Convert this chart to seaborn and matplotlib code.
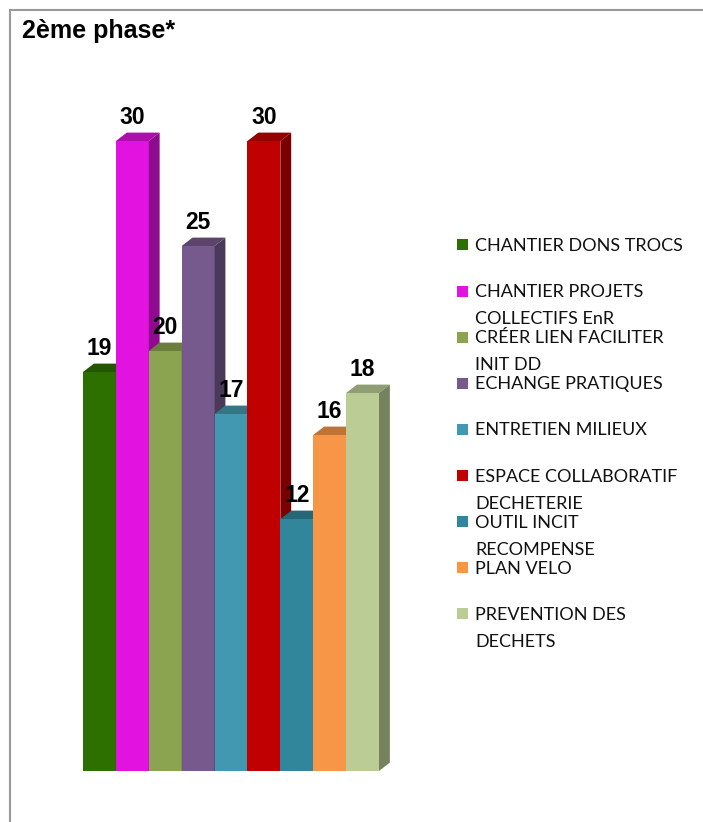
import matplotlib
matplotlib.use("Agg")
import matplotlib.pyplot as plt
from matplotlib.patches import Polygon, Rectangle
from matplotlib.lines import Line2D
import matplotlib.colors as mcolors
import seaborn as sns

# données
categories = ["CHANTIER DONS TROCS", "CHANTIER PROJETS COLLECTIFS EnR",
              "CRÉER LIEN FACILITER INIT DD", "ECHANGE PRATIQUES",
              "ENTRETIEN MILIEUX", "ESPACE COLLABORATIF DECHETERIE",
              "OUTIL INCIT RECOMPENSE", "PLAN VELO", "PREVENTION DES DECHETS"]
legend_labels = ["CHANTIER DONS TROCS", "CHANTIER PROJETS\nCOLLECTIFS EnR",
                 "CRÉER LIEN FACILITER\nINIT DD", "ECHANGE PRATIQUES",
                 "ENTRETIEN MILIEUX", "ESPACE COLLABORATIF\nDECHETERIE",
                 "OUTIL INCIT\nRECOMPENSE", "PLAN VELO", "PREVENTION DES\nDECHETS"]
values = [19, 30, 20, 25, 17, 30, 12, 16, 18]
colors = ["#2E7000", "#E212E0", "#8BA450", "#765A8E", "#4398B1",
          "#C00000", "#31869B", "#F79646", "#BBCD95"]

W, H = 703, 822
DEPTH_X = 0.33   # profondeur 3D (unités x)
DEPTH_Y = 0.40   # profondeur 3D (unités y)
BOLD_FONT = ['Liberation Sans', 'DejaVu Sans']


def shade(c, f):
    r, g, b = mcolors.to_rgb(c)
    return (r * f, g * f, b * f)


def main():
    sns.set_theme(style="white")
    plt.rcParams['font.family'] = ['Lato', 'DejaVu Sans']

    fig = plt.figure(figsize=(W / 100, H / 100), dpi=100)
    ax = fig.add_axes([83 / W, 1 - 771 / H, 296 / W, 630 / H])

    sns.barplot(x=categories, y=values, hue=categories, palette=colors,
                saturation=1, width=1.0, legend=False, ax=ax,
                edgecolor="none", linewidth=0)
    ax.set_xlim(-0.5, 8.5)
    ax.set_ylim(0, 30)
    ax.axis("off")

    # faces du dessus et côtés pour l'effet 3D
    for i, (patch, v, c) in enumerate(zip(ax.patches, values, colors)):
        patch.set_zorder(2 + i)
        x0 = patch.get_x()
        x1 = x0 + patch.get_width()
        top = Polygon([(x0, v), (x1, v), (x1 + DEPTH_X, v + DEPTH_Y),
                       (x0 + DEPTH_X, v + DEPTH_Y)],
                      closed=True, facecolor=shade(c, 0.77), edgecolor="none",
                      zorder=2 + i + 0.5, clip_on=False)
        side = Polygon([(x1, 0), (x1 + DEPTH_X, DEPTH_Y), (x1 + DEPTH_X, v + DEPTH_Y),
                        (x1, v)],
                       closed=True, facecolor=shade(c, 0.63), edgecolor="none",
                       zorder=2 + i + 0.5, clip_on=False)
        ax.add_patch(top)
        ax.add_patch(side)
        ax.annotate(str(v), xy=(x0 + patch.get_width() / 2, v + DEPTH_Y),
                    xytext=(0, 6), textcoords="offset points",
                    ha="center", va="baseline", fontsize=16.5, fontweight="bold",
                    family=BOLD_FONT, color="black", zorder=50,
                    annotation_clip=False)

    # titre
    fig.text(22 / W, 1 - 38 / H, "2ème phase*", ha="left", va="baseline",
             fontsize=18, fontweight="bold", family=BOLD_FONT, color="black")

    # légende manuelle
    for k, (lab, c) in enumerate(zip(legend_labels, colors)):
        yc = 245 + k * 46.1
        fig.add_artist(Rectangle((457 / W, 1 - (yc + 5.5) / H), 11 / W, 11 / H,
                                 transform=fig.transFigure, facecolor=c,
                                 edgecolor="none"))
        for j, line in enumerate(lab.split("\n")):
            fig.text(475 / W, 1 - (yc + 6 + j * 27) / H, line, ha="left",
                     va="baseline", fontsize=13, color="#111111")

    # cadre (haut et gauche)
    fig.add_artist(Line2D([10 / W, 1], [1 - 10 / H, 1 - 10 / H],
                          transform=fig.transFigure, color="#999999", lw=1.5))
    fig.add_artist(Line2D([10 / W, 10 / W], [0, 1 - 10 / H],
                          transform=fig.transFigure, color="#999999", lw=1.5))

    plt.savefig("out.png", dpi=100)


if __name__ == "__main__":
    main()
